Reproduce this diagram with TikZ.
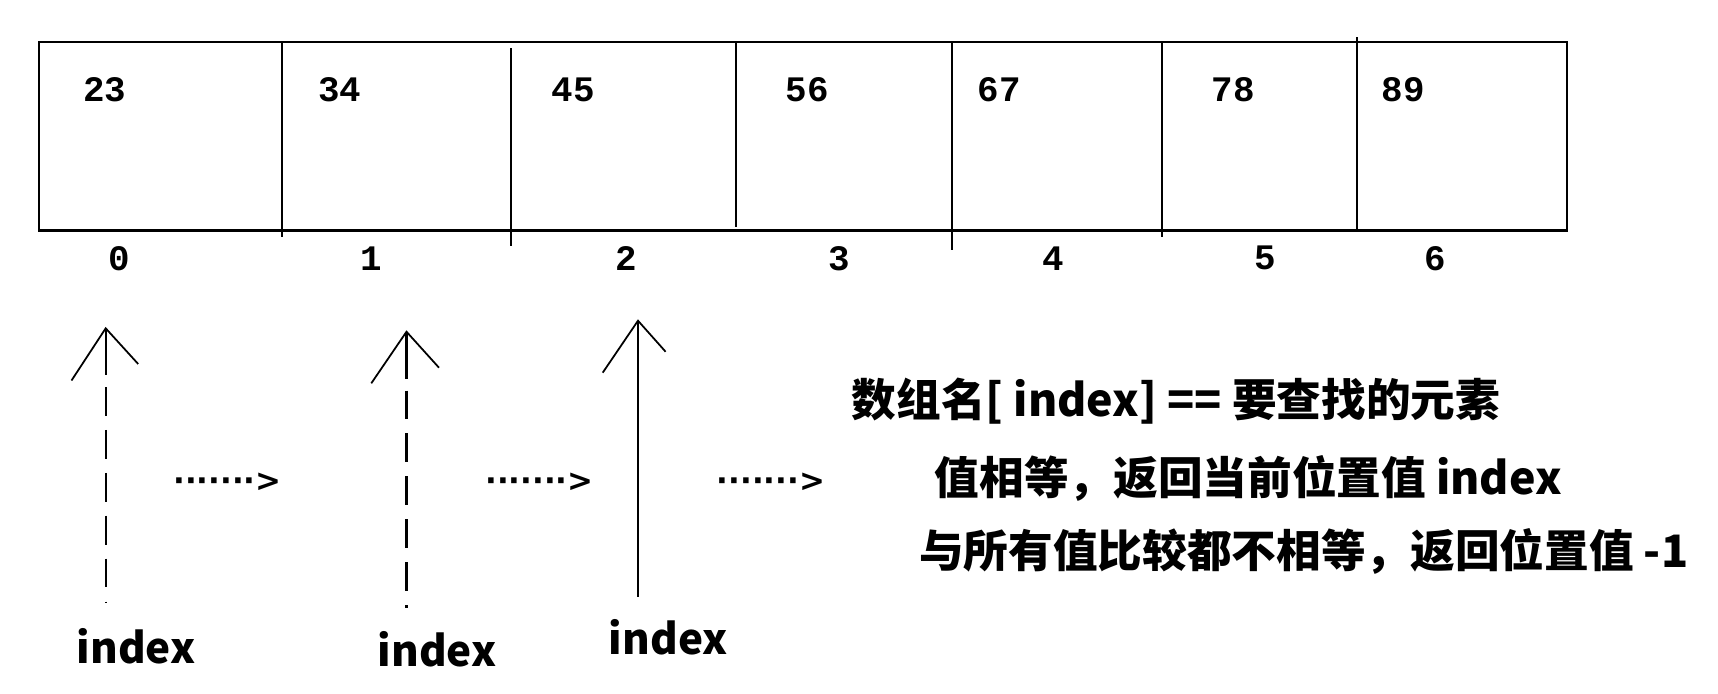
\documentclass[tikz,border=0pt]{standalone}
\usepackage{fontspec}
\newfontfamily\cjk{Noto Sans CJK SC}
\newfontfamily\digitfont{Liberation Mono}
\newfontfamily\dotfont{DejaVu Sans}
\begin{document}
\begin{tikzpicture}[x=0.01cm,y=-0.01cm,
  val/.style={font=\digitfont\bfseries\fontsize{10.2}{12}\selectfont, inner sep=0pt},
  lbl/.style={font=\cjk\bfseries\fontsize{12}{14}\selectfont, inner sep=0pt},
  note/.style={font=\cjk\bfseries\fontsize{12.7}{15}\selectfont, inner sep=0pt, anchor=base west},
  dots/.style={font=\dotfont\bfseries\fontsize{8.8}{10}\selectfont, inner sep=0pt},
  gridline/.style={line width=0.6pt},
  ptr/.style={line width=0.6pt},
  headline/.style={line width=0.5pt},
  dashptr/.style={ptr, dash pattern=on 8.2pt off 4pt}]
\useasboundingbox (0,0) rectangle (1718,694);
% array box
\draw[gridline] (39,41.7) rectangle (1567,230.5);
\draw[gridline] (282,41.7) -- (282,236.7);
\draw[gridline] (511,48.3) -- (511,245.7);
\draw[gridline] (736.4,41.7) -- (736.4,226.7);
\draw[gridline] (951.8,41.7) -- (951.8,250);
\draw[gridline] (1162,41.7) -- (1162,236.7);
\draw[gridline] (1357,37.3) -- (1357,230.5);
% values
\node[val] (v0) at (105,90) {23};
\node[val] (v1) at (339.7,90) {34};
\node[val] (v2) at (573,90) {45};
\node[val] (v3) at (807,90) {56};
\node[val] (v4) at (999,90) {67};
\node[val] (v5) at (1233.5,90) {78};
\node[val] (v6) at (1403.4,90) {89};
% indices
\node[val] (i0) at (119.6,258.3) {0};
\node[val] (i1) at (371,258.3) {1};
\node[val] (i2) at (626.6,258.3) {2};
\node[val] (i3) at (839.6,258.3) {3};
\node[val] (i4) at (1053,258.3) {4};
\node[val] (i5) at (1265,258.3) {5};
\node[val] (i6) at (1435.5,258.3) {6};
% pointer 1
\coordinate (t1) at (105.7,328.3);
\coordinate (m1) at (105.7,375);
\coordinate (s1) at (105.7,387);
\coordinate (b1) at (105.7,603.3);
\draw[ptr] (t1) -- (m1);
\draw[dashptr] (s1) -- (b1);
\draw[headline] (71.5,380.5) -- (t1) -- (138.2,364);
% pointer 2
\coordinate (t2) at (406.5,331.7);
\coordinate (m2) at (406.5,378.5);
\coordinate (s2) at (406.5,390.5);
\coordinate (b2) at (406.5,608.3);
\draw[ptr] (t2) -- (m2);
\draw[dashptr] (s2) -- (b2);
\draw[headline] (371.3,383.3) -- (t2) -- (439,367.7);
% pointer 3
\coordinate (t3) at (638,320.7);
\coordinate (b3) at (638,596.7);
\draw[ptr] (b3) -- (t3);
\draw[headline] (602.7,372.7) -- (t3) -- (665.6,351.7);
% labels
\node[lbl] (l1) at (136,646) {index};
\node[lbl] (l2) at (437,649) {index};
\node[lbl] (l3) at (668.3,637.5) {index};
% dotted arrows
\node[dots] (d1) at (227.5,482) {·······>};
\node[dots] (d2) at (539.5,482) {·······>};
\node[dots] (d3) at (771,482) {·······>};
% notes
\node[note] (n1) at (851,416) {数组名[ index] == 要查找的元素};
\node[note] (n2) at (934,494) {值相等，返回当前位置值 index};
\node[note] (n3) at (918.5,567) {与所有值比较都不相等，返回位置值 -1};
\end{tikzpicture}
\end{document}
